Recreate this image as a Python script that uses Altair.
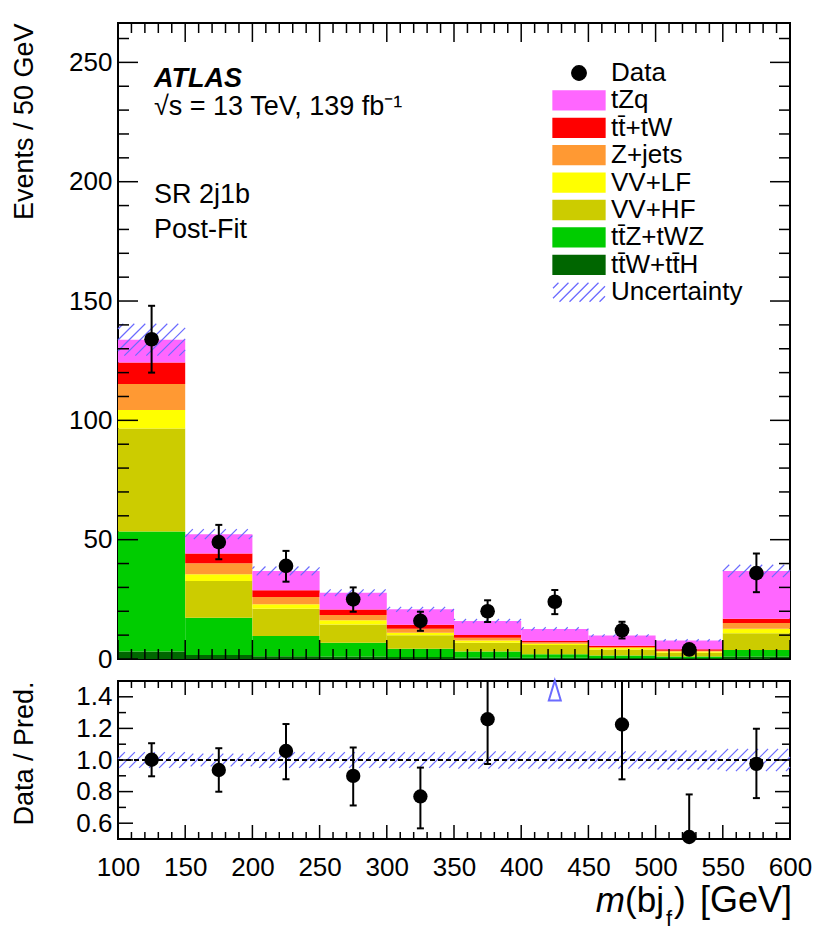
import math
import altair as alt
import pandas as pd

# ---------------- data ----------------
bin_lo = [100, 150, 200, 250, 300, 350, 400, 450, 500, 550]
bin_hi = [150, 200, 250, 300, 350, 400, 450, 500, 550, 600]

# stacked backgrounds, bottom -> top
proc_names = ["tt\u0304W+tt\u0304H", "tt\u0304Z+tWZ", "VV+HF", "VV+LF", "Z+jets", "tt\u0304+tW", "tZq"]
proc_colors = ["#006600", "#00cc00", "#cccc00", "#ffff00", "#ff9933", "#ff0000", "#ff66ff"]
ttWH  = [3.1, 1.7, 1.2, 1.0, 0.8, 0.6, 0.5, 0.4, 0.3, 1.0]
ttZ   = [50.3, 15.6, 8.4, 5.8, 3.5, 2.5, 1.5, 1.1, 0.7, 2.8]
VVHF  = [43.2, 15.4, 11.5, 7.7, 5.6, 3.7, 3.9, 2.5, 1.6, 7.0]
VVLF  = [7.7, 2.8, 1.8, 1.7, 1.1, 1.0, 0.5, 0.6, 0.5, 1.9]
Zjets = [10.9, 4.6, 3.1, 2.2, 1.7, 1.1, 0.6, 0.4, 0.4, 2.4]
ttbar = [9.0, 4.1, 2.8, 2.3, 1.6, 1.2, 0.5, 0.6, 0.6, 1.8]
tZq   = [9.6, 8.1, 8.1, 7.1, 6.5, 5.8, 5.1, 4.2, 3.7, 20.0]
series = [ttWH, ttZ, VVHF, VVLF, Zjets, ttbar, tZq]

unc_rel = [0.05, 0.04, 0.05, 0.05, 0.05, 0.055, 0.055, 0.055, 0.06, 0.07]

data_counts = [134, 49, 39, 25, 16, 20, 24, 12, 4, 36]
data_err_up = [14.0, 7.2, 6.3, 5.0, 3.8, 4.6, 4.9, 3.6, 2.1, 8.2]
data_err_dn = [14.0, 7.2, 6.6, 5.2, 4.2, 4.5, 5.2, 3.4, 2.0, 8.0]

legend_entries = ["Data", "tZq", "tt\u0304+tW", "Z+jets", "VV+LF", "VV+HF",
                  "tt\u0304Z+tWZ", "tt\u0304W+tt\u0304H", "Uncertainty"]
legend_fill = ["#000000", "#ff66ff", "#ff0000", "#ff9933", "#ffff00", "#cccc00",
               "#00cc00", "#006600", "#ffffff"]
HATCH = "#6b6bff"
legend_stroke = legend_fill[:-1] + [HATCH]

y_ticks_main = [0, 50, 100, 150, 200, 250]
y_ticks_ratio = [0.6, 0.8, 1.0, 1.2, 1.4]
x_ticks = [100, 150, 200, 250, 300, 350, 400, 450, 500, 550, 600]

# ---------------- geometry ----------------
FONT = "Liberation Sans"
W, H_MAIN, H_RATIO = 672, 636, 158
XMIN, XMAX = 100, 600
YMAX = 266.5
RMIN, RMAX = 0.5, 1.5
kx = W / (XMAX - XMIN)
ky_main = H_MAIN / YMAX
ky_ratio = H_RATIO / (RMAX - RMIN)

xscale = alt.Scale(domain=[XMIN, XMAX], nice=False, zero=False)
yscale = alt.Scale(domain=[0, YMAX], nice=False, zero=False)
rscale = alt.Scale(domain=[RMIN, RMAX], nice=False, zero=False)

AX_Y_MAIN = alt.Axis(values=y_ticks_main, title="Events / 50 GeV", titleAnchor="end",
                     titleX=-94, titleY=0, titleBaseline="middle", titleAlign="right",
                     titleAngle=-90, labelPadding=6)
AX_Y_RATIO = alt.Axis(values=y_ticks_ratio, format=".1f", title="Data / Pred.",
                      titleAnchor="end", titleX=-94, titleY=0, titleBaseline="middle",
                      titleAlign="right", titleAngle=-90, labelPadding=6)
AX_X_RATIO = alt.Axis(values=x_ticks, labelPadding=15, title=None, labelFlush=False)


def XM(f):
    return alt.X(f, scale=xscale, axis=None)


def XR(f):
    return alt.X(f, scale=xscale, axis=AX_X_RATIO)


def YM(f):
    return alt.Y(f, scale=yscale, axis=AX_Y_MAIN)


def YR(f):
    return alt.Y(f, scale=rscale, axis=AX_Y_RATIO)


def hatch_segments(x0, x1, y0, y1, kx, ky, xo, yo, S):
    u0, u1 = (x0 - xo) * kx, (x1 - xo) * kx
    v0, v1 = (y0 - yo) * ky, (y1 - yo) * ky
    segs = []
    for k in range(math.ceil((u0 - v1) / S), math.floor((u1 - v0) / S) + 1):
        c = k * S
        ua = max(u0, v0 + c)
        ub = min(u1, v1 + c)
        if ub - ua > 0.3:
            segs.append((xo + ua / kx, yo + (ua - c) / ky, xo + ub / kx, yo + (ub - c) / ky))
    return segs


# stacked table
rows = []
totals = []
for i in range(len(bin_lo)):
    cum = 0.0
    for name, vals in zip(proc_names, series):
        rows.append({"lo": bin_lo[i], "hi": bin_hi[i], "y0": cum, "y1": cum + vals[i], "process": name})
        cum += vals[i]
    totals.append(cum)
stack_df = pd.DataFrame(rows)

centers = [(a + b) / 2 for a, b in zip(bin_lo, bin_hi)]
data_df = pd.DataFrame({
    "c": centers,
    "n": data_counts,
    "up": [n + u for n, u in zip(data_counts, data_err_up)],
    "dn": [n - d for n, d in zip(data_counts, data_err_dn)],
})
ratio_df = pd.DataFrame({
    "c": centers,
    "r": [n / t for n, t in zip(data_counts, totals)],
    "rup": [(n + u) / t for n, u, t in zip(data_counts, data_err_up, totals)],
    "rdn": [(n - d) / t for n, d, t in zip(data_counts, data_err_dn, totals)],
})
# limit error bars to the visible ratio range (the frame cuts them there)
ratio_df["rup_c"] = ratio_df["rup"].clip(upper=RMAX)
ratio_df["rdn_c"] = ratio_df["rdn"].clip(lower=RMIN)
ratio_df["tri"] = RMAX - 0.06

# hatch segments
main_h = []
ratio_h = []
for i in range(len(bin_lo)):
    t = totals[i]
    for s in hatch_segments(bin_lo[i], bin_hi[i], t * (1 - unc_rel[i]), t * (1 + unc_rel[i]),
                            kx, ky_main, XMIN, 0.0, 11.0):
        main_h.append(dict(zip(["xa", "ya", "xb", "yb"], s)))
    for s in hatch_segments(bin_lo[i], bin_hi[i], 1 - unc_rel[i], 1 + unc_rel[i],
                            kx, ky_ratio, XMIN, RMIN, 10.0):
        ratio_h.append(dict(zip(["xa", "ya", "xb", "yb"], s)))
main_h = pd.DataFrame(main_h)
ratio_h = pd.DataFrame(ratio_h)

# legend symbol paths (unit = 13 px)
rect_path = "M-2,-0.73H2V0.73H-2Z"
circ_path = "M-0.56,0A0.56,0.56 0 1,0 0.56,0A0.56,0.56 0 1,0 -0.56,0Z"
hp = []
for xa, ya, xb, yb in hatch_segments(-2, 2, -0.73, 0.73, 1, 1, 0, 0, 0.77):
    hp.append(f"M{xa:.3f},{-ya:.3f}L{xb:.3f},{-yb:.3f}")
hatch_path = "".join(hp)
legend_shapes = [circ_path] + [rect_path] * 7 + [hatch_path]

fill_scale = alt.Scale(domain=legend_entries, range=legend_fill)
stroke_scale = alt.Scale(domain=legend_entries, range=legend_stroke)
shape_scale = alt.Scale(domain=legend_entries, range=legend_shapes)
proc_scale = alt.Scale(domain=proc_names, range=proc_colors)


def inner_ticks(maj_x, min_x, maj_y, min_y, Xf, Yf, Hh, Lx, lx, Ly, ly):
    out = []
    for vals, L in ((maj_x, Lx), (min_x, lx)):
        d = pd.DataFrame({"t": vals})
        out.append(alt.Chart(d).mark_rule(color="black", strokeWidth=1.5).encode(
            x=Xf("t:Q"), y=alt.value(Hh), y2=alt.value(Hh - L)))
        out.append(alt.Chart(d).mark_rule(color="black", strokeWidth=1.5).encode(
            x=Xf("t:Q"), y=alt.value(0), y2=alt.value(L)))
    for vals, L in ((maj_y, Ly), (min_y, ly)):
        d = pd.DataFrame({"t": vals})
        out.append(alt.Chart(d).mark_rule(color="black", strokeWidth=1.5).encode(
            y=Yf("t:Q"), x=alt.value(0), x2=alt.value(L)))
        out.append(alt.Chart(d).mark_rule(color="black", strokeWidth=1.5).encode(
            y=Yf("t:Q"), x=alt.value(W), x2=alt.value(W - L)))
    return out


x_major = list(range(100, 601, 50))
x_minor = [v for v in range(100, 601, 10) if v % 50]
ym_major = list(range(0, 251, 50))
ym_minor = [v for v in range(0, 267, 10) if v % 50]
yr_major = [0.6, 0.8, 1.0, 1.2, 1.4]
yr_minor = [0.5, 0.7, 0.9, 1.1, 1.3, 1.5]

# ---------------- main panel ----------------
bars = alt.Chart(stack_df).mark_rect().encode(
    x=XM("lo:Q"), x2="hi:Q", y=YM("y0:Q"), y2="y1:Q",
    color=alt.Color("process:N", scale=proc_scale, legend=None),
)

hatch_main = alt.Chart(main_h).mark_rule(color=HATCH, strokeWidth=1.2).encode(
    x=XM("xa:Q"), y=YM("ya:Q"), x2="xb:Q", y2="yb:Q")

err = alt.Chart(data_df).mark_rule(color="black", strokeWidth=2).encode(
    x=XM("c:Q"), y=YM("dn:Q"), y2="up:Q")
cap_up = alt.Chart(data_df).mark_tick(color="black", orient="horizontal", size=7, thickness=2, opacity=1).encode(
    x=XM("c:Q"), y=YM("up:Q"))
cap_dn = alt.Chart(data_df).mark_tick(color="black", orient="horizontal", size=7, thickness=2, opacity=1).encode(
    x=XM("c:Q"), y=YM("dn:Q"))
pts = alt.Chart(data_df).mark_point(filled=True, shape="circle", size=215, color="black", opacity=1).encode(
    x=XM("c:Q"), y=YM("n:Q"))


def label(txt, x, y, size=26, **kw):
    return alt.Chart(pd.DataFrame({"t": [txt]})).mark_text(
        align=kw.pop("align", "left"), baseline="alphabetic", fontSize=size, font=FONT,
        color="black", **kw).encode(text="t:N", x=alt.value(x), y=alt.value(y))


texts = [
    label("ATLAS", 36, 64, 27, fontWeight="bold", fontStyle="italic"),
    label("\u221as = 13 TeV, 139 fb\u207b\u00b9", 36, 92, 27),
    label("SR 2j1b", 36, 180, 27),
    label("Post-Fit", 36, 215, 27),
]

leg = alt.Legend(title=None, orient="none", legendX=447, legendY=36, symbolSize=676,
                 labelFontSize=26, labelFont=FONT, labelColor="black", labelOffset=18,
                 rowPadding=0.4, padding=0, symbolStrokeWidth=1.3, symbolOpacity=1,
                 labelLimit=400)
legend_layer = alt.Chart(pd.DataFrame({"entry": legend_entries})).mark_point(
    filled=True, opacity=1, strokeWidth=1.3).encode(
    fill=alt.Fill("entry:N", scale=fill_scale, legend=leg),
    stroke=alt.Stroke("entry:N", scale=stroke_scale, legend=leg),
    shape=alt.Shape("entry:N", scale=shape_scale, legend=leg),
).transform_filter("false")

main = alt.layer(
    bars, hatch_main,
    *inner_ticks(x_major, x_minor, ym_major, ym_minor, XM, YM, H_MAIN, 19, 10, 20, 11),
    err, cap_up, cap_dn, pts, *texts, legend_layer,
).properties(width=W, height=H_MAIN)

# ---------------- ratio panel ----------------
hatch_ratio = alt.Chart(ratio_h).mark_rule(color=HATCH, strokeWidth=1.2).encode(
    x=XR("xa:Q"), y=YR("ya:Q"), x2="xb:Q", y2="yb:Q")

one_df = pd.DataFrame({"ref": [1.0]})
dashed = alt.Chart(one_df).mark_rule(color="black", strokeWidth=2, strokeDash=[5, 3]).encode(
    y=YR("ref:Q"), x=alt.value(0), x2=alt.value(W))

rin = "datum.r <= %g" % RMAX
rerr = alt.Chart(ratio_df).transform_filter(rin).mark_rule(color="black", strokeWidth=2).encode(
    x=XR("c:Q"), y=YR("rdn_c:Q"), y2="rup_c:Q")
rcap_up = alt.Chart(ratio_df).transform_filter(rin + " && datum.rup <= %g" % RMAX).mark_tick(
    color="black", orient="horizontal", size=7, thickness=2, opacity=1).encode(
    x=XR("c:Q"), y=YR("rup:Q"))
rcap_dn = alt.Chart(ratio_df).transform_filter(rin + " && datum.rdn >= %g" % RMIN).mark_tick(
    color="black", orient="horizontal", size=7, thickness=2, opacity=1).encode(
    x=XR("c:Q"), y=YR("rdn:Q"))
rpts = alt.Chart(ratio_df).transform_filter(rin).mark_point(
    filled=True, shape="circle", size=205, color="black", opacity=1).encode(
    x=XR("c:Q"), y=YR("r:Q"))
tri = alt.Chart(ratio_df).transform_filter("datum.r > %g" % RMAX).mark_point(
    shape="M0,-1L0.6,1L-0.6,1Z", size=400, filled=False, stroke=HATCH, strokeWidth=2, opacity=1).encode(
    x=XR("c:Q"), y=YR("tri:Q"))

xt = [
    label("[GeV]", W + 2, 231, 36, align="right"),
    label(")", 556, 231, 35),
    label("f", 551, 245, 22, align="center"),
    label("(bj", 546, 231, 35, align="right"),
    label("m", 507, 231, 35, align="right", fontStyle="italic"),
]

ratio = alt.layer(
    hatch_ratio, dashed,
    *inner_ticks(x_major, x_minor, yr_major, yr_minor, XR, YR, H_RATIO, 14, 7, 15, 8),
    rerr, rcap_up, rcap_dn, rpts, tri, *xt,
).properties(width=W, height=H_RATIO)

chart = alt.vconcat(main, ratio, spacing=2).properties(
    padding={"left": 0, "top": 13, "right": 5, "bottom": 0}
).configure_view(stroke="black", strokeWidth=2).configure_axis(
    labelFont=FONT, titleFont=FONT, labelFontSize=26, titleFontSize=27, titleFontWeight="normal",
    labelColor="black", titleColor="black", grid=False, ticks=False, tickSize=0, domain=False,
    labelFlush=False, labelOverlap=False,
).configure_text(font=FONT)

chart.save("out.html", embed_options={"renderer": "svg", "actions": False})
